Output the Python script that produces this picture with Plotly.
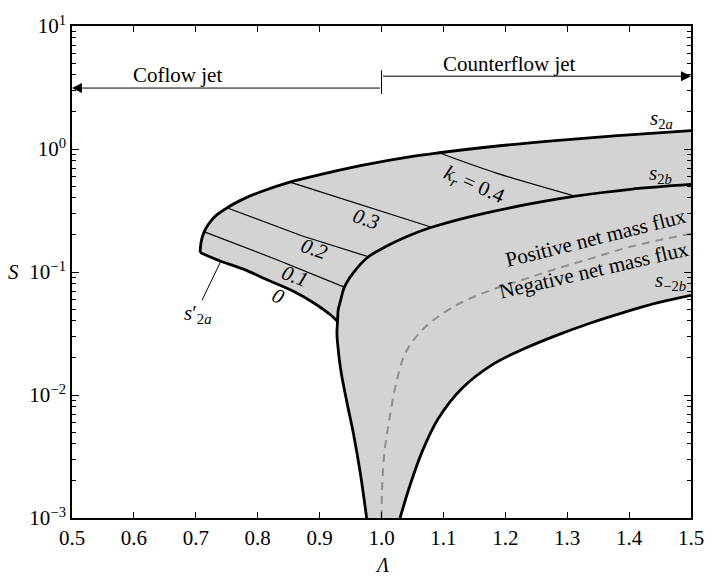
import math
import plotly.graph_objects as go

# ---- data (x = Lambda, y = S) ----
# upper boundary s_2a
s2a_x = [0.707, 0.7085, 0.713, 0.721, 0.732, 0.750, 0.773, 0.805, 0.852, 0.908, 0.966, 1.050, 1.093, 1.176, 1.271, 1.376, 1.5]
s2a_y = [0.144, 0.174, 0.209, 0.247, 0.286, 0.331, 0.384, 0.449, 0.538, 0.631, 0.732, 0.870, 0.932, 1.043, 1.159, 1.278, 1.409]
# lower-left boundary s'_2a (k_r = 0)
s0_x = [0.707, 0.739, 0.776, 0.818, 0.860, 0.892, 0.918, 0.929]
s0_y = [0.144, 0.123, 0.106, 0.0852, 0.0688, 0.0555, 0.0447, 0.0396]
# s_2b (left branch from the bottom, then round to the right)
s2b_x = [0.976, 0.966, 0.955, 0.944, 0.934, 0.929, 0.928, 0.929, 0.930, 0.934, 0.940, 0.955, 0.979, 1.008, 1.050, 1.081, 1.166, 1.313, 1.402, 1.5]
s2b_y = [0.001, 0.00228, 0.00476, 0.00879, 0.0162, 0.0266, 0.0319, 0.0396, 0.049, 0.0589, 0.0754, 0.0995, 0.133, 0.162, 0.2025, 0.231, 0.300, 0.413, 0.470, 0.515]
# s_-2b
sm2b_x = [1.030, 1.045, 1.066, 1.092, 1.129, 1.181, 1.234, 1.287, 1.339, 1.392, 1.445, 1.5]
sm2b_y = [0.001, 0.00178, 0.0035, 0.00646, 0.0112, 0.0179, 0.0242, 0.0311, 0.0387, 0.047, 0.056, 0.0646]
# zero net mass flux (dashed)
zero_x = [1.000, 1.001, 1.005, 1.013, 1.023, 1.039, 1.066, 1.097, 1.129, 1.181, 1.235, 1.287, 1.339, 1.393, 1.445, 1.5]
zero_y = [0.001, 0.00178, 0.0035, 0.00646, 0.0120, 0.0221, 0.0339, 0.0453, 0.0565, 0.0724, 0.0887, 0.108, 0.129, 0.156, 0.180, 0.205]
# k_r contours
k01_x = [0.714, 0.829, 0.940]
k01_y = [0.212, 0.127, 0.0754]
k02_x = [0.750, 0.871, 0.979]
k02_y = [0.333, 0.197, 0.133]
k03_x = [0.852, 1.081]
k03_y = [0.538, 0.231]
k04_x = [1.093, 1.187, 1.313]
k04_y = [0.932, 0.634, 0.413]
# leader line for s'_2a label
lead_x = [0.710, 0.740]
lead_y = [0.0589, 0.121]

x_ticks = [0.5, 0.6, 0.7, 0.8, 0.9, 1.0, 1.1, 1.2, 1.3, 1.4, 1.5]
x_ticktext = ["0.5", "0.6", "0.7", "0.8", "0.9", "1.0", "1.1", "1.2", "1.3", "1.4", "1.5"]
y_ticks = [0.001, 0.01, 0.1, 1, 10]
y_ticktext = ["10<sup>−3</sup>", "10<sup>−2</sup>", "10<sup>−1</sup>", "10<sup>0</sup>", "10<sup>1</sup>"]

FONT = "Liberation Serif, Times New Roman, serif"
GRAY = "#d3d3d3"

fig = go.Figure()

# shaded region
poly_x = s2a_x + sm2b_x[::-1] + s2b_x[:8] + s0_x[::-1]
poly_y = s2a_y + sm2b_y[::-1] + s2b_y[:8] + s0_y[::-1]
fig.add_trace(go.Scatter(x=poly_x, y=poly_y, mode="lines", fill="toself",
                         fillcolor=GRAY, line=dict(width=0, color=GRAY),
                         hoverinfo="skip"))

thin = dict(color="black", width=1.2)
for cx, cy in [(k01_x, k01_y), (k02_x, k02_y), (k03_x, k03_y)]:
    fig.add_trace(go.Scatter(x=cx, y=cy, mode="lines", line=thin))
fig.add_trace(go.Scatter(x=k04_x, y=k04_y, mode="lines", line=dict(thin, shape="spline")))

fig.add_trace(go.Scatter(x=zero_x, y=zero_y, mode="lines",
                         line=dict(color="#8f8f8f", width=2, dash="8px,6px", shape="spline")))

thick = dict(color="black", width=2.8, shape="spline", smoothing=1.0)
for cx, cy in [(s2a_x, s2a_y), (s0_x, s0_y), (s2b_x, s2b_y), (sm2b_x, sm2b_y)]:
    fig.add_trace(go.Scatter(x=cx, y=cy, mode="lines", line=thick))

fig.add_trace(go.Scatter(x=lead_x, y=lead_y, mode="lines", line=dict(color="black", width=1)))

# divider between coflow / counterflow
fig.add_trace(go.Scatter(x=[1.0, 1.0], y=[2.8, 4.37], mode="lines",
                         line=dict(color="black", width=1), cliponaxis=False))

L = math.log10
ann = []
# arrows
ann.append(dict(x=0.5, y=L(3.13), ax=1.0, ay=L(3.13), xref="x", yref="y", axref="x", ayref="y",
                text="", showarrow=True, arrowhead=2, arrowsize=2, arrowwidth=1,
                arrowcolor="black", standoff=0, startstandoff=0))
ann.append(dict(x=1.5, y=L(3.91), ax=1.0, ay=L(3.91), xref="x", yref="y", axref="x", ayref="y",
                text="", showarrow=True, arrowhead=2, arrowsize=2, arrowwidth=1,
                arrowcolor="black", standoff=0, startstandoff=0))


def lab(x, y, text, angle=0, size=21):
    ann.append(dict(x=x, y=L(y), xref="x", yref="y", text=text, showarrow=False,
                    textangle=angle, xanchor="center", yanchor="middle",
                    font=dict(family=FONT, size=size, color="black")))


lab(0.671, 3.98, "Coflow jet")
lab(1.206, 4.88, "Counterflow jet")
lab(1.4526, 1.74, "<i>s</i><sub>2<i>a</i></sub>")
lab(1.451, 0.631, "<i>s</i><sub>2<i>b</i></sub>")
lab(1.467, 0.0847, "<i>s</i><sub>−2<i>b</i></sub>")
lab(1.149, 0.506, "<i>k<sub>r</sub></i> = 0.4", angle=24)
lab(0.9755, 0.2704, "<i>0.3</i>", angle=18)
lab(0.892, 0.1528, "<i>0.2</i>", angle=20)
lab(0.860, 0.0929, "<i>0.1</i>", angle=21)
lab(0.833, 0.0643, "<i>0</i>", angle=24)
lab(0.702, 0.0453, "<i>s</i>′<sub>2<i>a</i></sub>")
lab(1.345, 0.190, "Positive net mass flux", angle=-14)
lab(1.344, 0.1038, "Negative net mass flux", angle=-13)

# axis titles
ann.append(dict(x=-0.095, y=0.5, xref="paper", yref="paper", text="<i>S</i>", showarrow=False,
                xanchor="center", yanchor="middle", font=dict(family=FONT, size=21, color="black")))
ann.append(dict(x=0.5, y=-0.07, xref="paper", yref="paper", text="<i>Λ</i>", showarrow=False,
                xanchor="center", yanchor="top", font=dict(family=FONT, size=20, color="black")))

minor_vals = [k * 10.0 ** e for e in range(-3, 1) for k in range(2, 10)]

fig.update_layout(
    width=716, height=576,
    margin=dict(l=72, r=12, t=18, b=58),
    paper_bgcolor="white", plot_bgcolor="white",
    showlegend=False,
    font=dict(family=FONT, size=21, color="black"),
    annotations=ann,
    xaxis=dict(range=[0.5, 1.5], tickmode="array", tickvals=x_ticks, ticktext=x_ticktext,
               ticks="inside", ticklen=6, tickwidth=1, tickcolor="black",
               showline=True, linecolor="black", linewidth=1.6, mirror="allticks",
               showgrid=False, zeroline=False,
               tickfont=dict(family=FONT, size=21, color="black")),
    yaxis=dict(type="log", range=[-3, 1], tickmode="array", tickvals=y_ticks, ticktext=y_ticktext,
               ticks="inside", ticklen=7, tickwidth=1, tickcolor="black",
               showline=True, linecolor="black", linewidth=1.6, mirror="allticks",
               showgrid=False, zeroline=False,
               minor=dict(tickmode="array", tickvals=minor_vals, ticks="inside", ticklen=4,
                          tickwidth=1, tickcolor="black", showgrid=False),
               tickfont=dict(family=FONT, size=21, color="black")),
)

fig.write_html("out.html")
